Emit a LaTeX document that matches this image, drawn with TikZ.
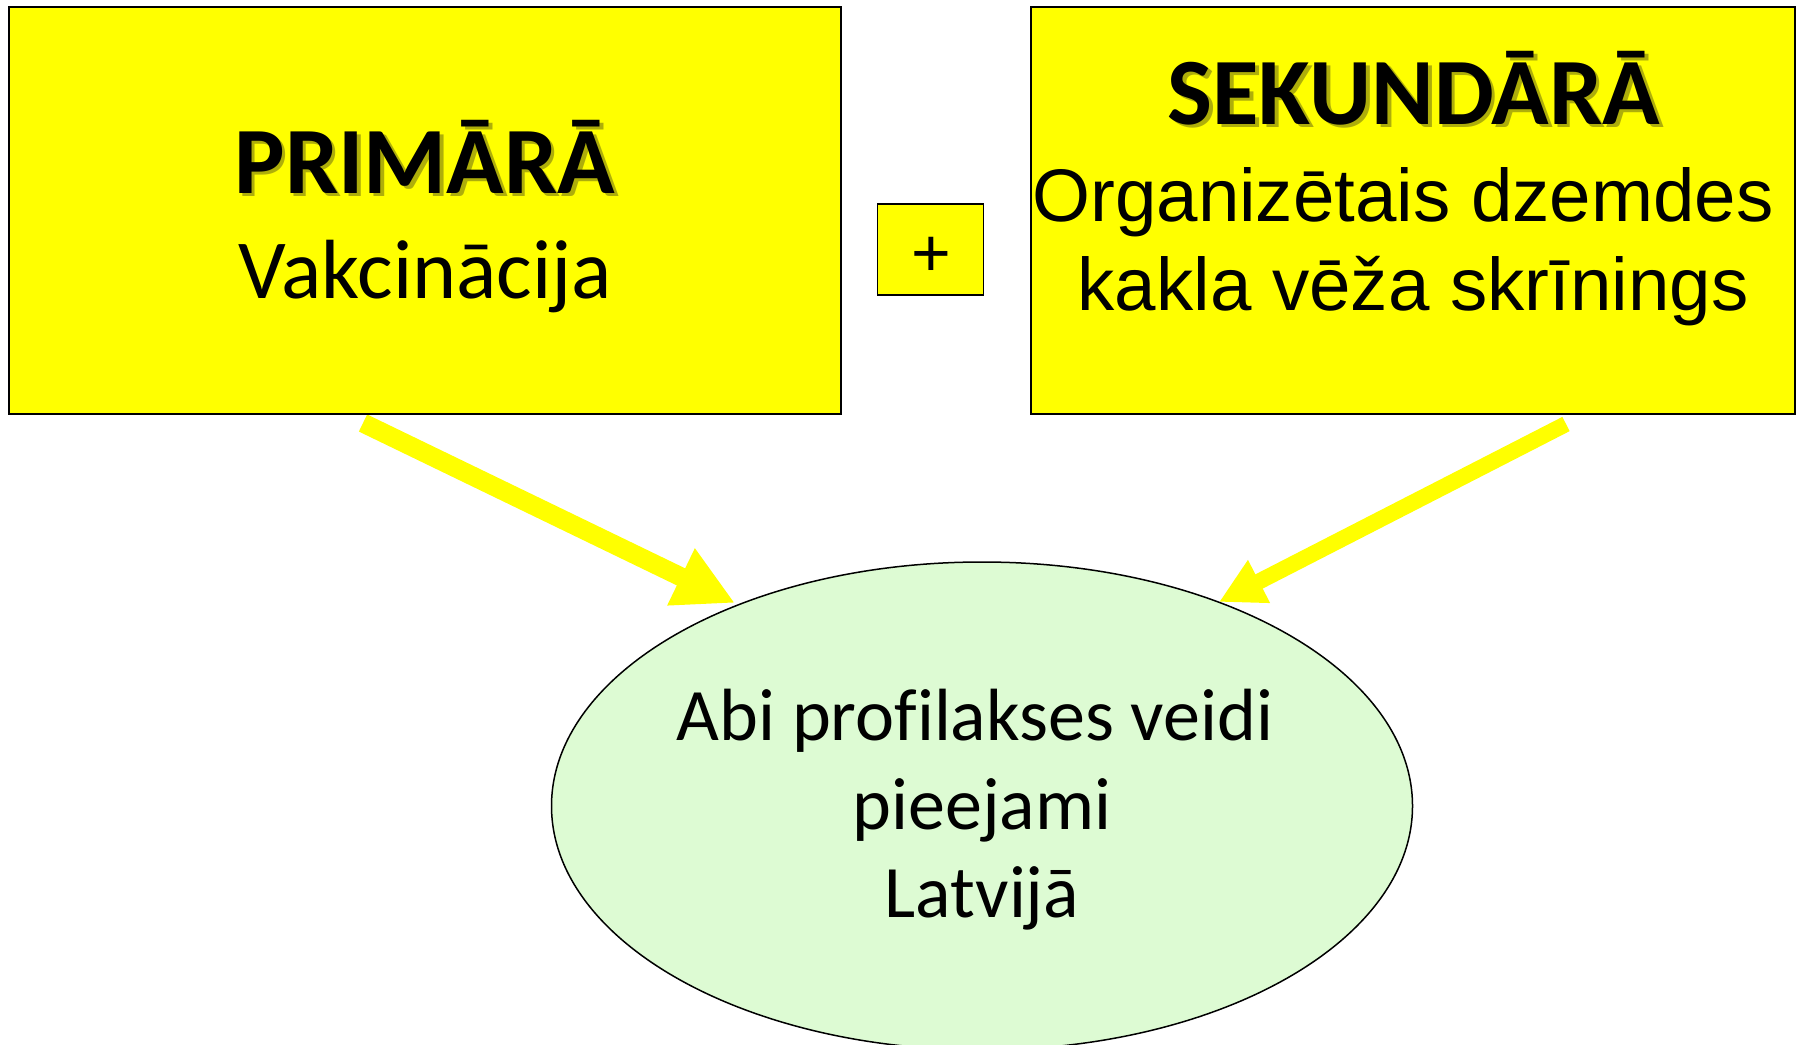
\documentclass[tikz,border=0pt]{standalone}
\usepackage{fontspec}
\setmainfont{Carlito}[Ligatures={NoCommon}]
\newfontfamily\arialf{Liberation Sans}
\usetikzlibrary{arrows.meta,shapes.geometric}
\definecolor{boxyellow}{RGB}{255,255,0}
\definecolor{ellgreen}{RGB}{221,251,211}
\definecolor{shadowc}{RGB}{95,95,20}
\begin{document}
\begin{tikzpicture}[x=1pt,y=-1pt,
  ybox/.style={draw=black,line width=2pt,fill=boxyellow,inner sep=0pt},
  txt/.style={inner sep=0pt,anchor=base,text=black},
  heading/.style={txt,font=\bfseries\fontsize{95}{114}\selectfont},
  headshadow/.style={heading,text=shadowc,opacity=0.5},
  bodytxt/.style={txt,font=\fontsize{84}{100}\selectfont},
  ariatxt/.style={txt,font=\arialf\fontsize{74.5}{89}\selectfont},
  elltxt/.style={txt,font=\fontsize{74}{89}\selectfont},
  connbig/.style={draw=boxyellow,line width=19pt,-{Triangle[width=59pt,length=60pt]}},
  connsmall/.style={draw=boxyellow,line width=16pt,-{Triangle[width=45pt,length=45pt]}}
]
\useasboundingbox (0,0) rectangle (1798,1044);
\fill[white] (0,0) rectangle (1798,1044);

% arrows (behind boxes)
\coordinate (a1s) at (363,423);
\coordinate (a1e) at (735,603);
\coordinate (a2s) at (1566,424);
\coordinate (a2e) at (1219,602);
\draw[connbig] (a1s) -- (a1e);
\draw[connsmall] (a2s) -- (a2e);

% boxes
\node[ybox,minimum width=832pt,minimum height=407pt] (prim) at (425,210.5) {};
\node[ybox,minimum width=764pt,minimum height=407pt] (sek) at (1413,210.5) {};
\node[ybox,line width=1.6pt,minimum width=106pt,minimum height=91pt] (plusbox) at (930.5,249.5) {};
\node[inner sep=0pt,font=\arialf\fontsize{68}{80}\selectfont] (plus) at (931,257) {+};

% left box text
\node[headshadow] (primsh) at (428.5,196.5) {PRIMĀRĀ};
\node[heading] (primt) at (425,193) {PRIMĀRĀ};
\node[bodytxt] (vakc) at (425,298) {Vakcinācija};

% right box text
\node[headshadow] (seksh) at (1417.5,127.5) {SEKUNDĀRĀ};
\node[heading] (sekt) at (1414,124) {SEKUNDĀRĀ};
\node[ariatxt] (org1) at (1403,221) {Organizētais dzemdes};
\node[ariatxt] (org2) at (1413,310) {kakla vēža skrīnings};

% ellipse
\node[ellipse,draw=black,line width=1.5pt,fill=ellgreen,minimum width=861pt,minimum height=488pt,inner sep=0pt] (ell) at (982,806) {};
\node[elltxt] (e1) at (975,740) {Abi profilakses veidi};
\node[elltxt] (e2) at (982,829) {pieejami};
\node[elltxt] (e3) at (982,917) {Latvijā};
\end{tikzpicture}
\end{document}
